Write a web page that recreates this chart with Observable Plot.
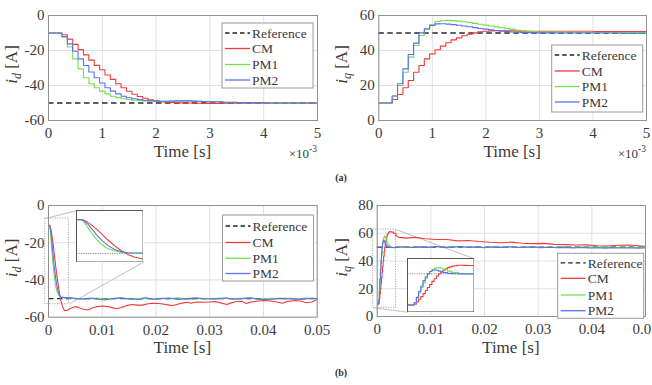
<!DOCTYPE html>
<html><head><meta charset="utf-8">
<script src="https://cdn.jsdelivr.net/npm/d3@7"></script>
<script src="https://cdn.jsdelivr.net/npm/@observablehq/plot@0.6"></script>
<style>
body{margin:0;background:#fff;}
#fig{position:relative;width:652px;height:385px;overflow:hidden;background:#fff;font-family:"Liberation Serif","Times New Roman",serif;}
.cap{position:absolute;font-size:10px;font-weight:bold;transform:translateX(-50%);color:#333;}
</style></head><body><div id="fig"></div>
<script>
// ---------- DATA ----------
const seriesNames = ["CM", "PM1", "PM2"];
const legendLabels = ["Reference", "CM", "PM1", "PM2"];
const refId = -50, refIq = 50;

// (a) time in ms (axis shows x10^-3 s)
const tTop = [0,0.25,0.35,0.45,0.55,0.65,0.75,0.85,0.95,1.05,1.15,1.25,1.35,1.45,1.55,1.65,1.75,1.85,1.95,2.05,2.15,2.25,2.35,2.45,2.55,2.65,2.75,2.85,2.95,3.25,3.5,4,4.5,5];
const idTopCM  = [-10,-11,-13.5,-16.5,-19.5,-22.5,-25.5,-28.5,-31,-34,-36.5,-39,-41.3,-43.3,-45,-46.3,-47.3,-48.1,-48.7,-49.2,-49.5,-49.7,-49.8,-49.9,-50,-50.1,-50.1,-50.2,-50.2,-50.1,-50.1,-50,-50,-50];
const idTopPM1 = [-10,-12.4,-18,-24.8,-30.5,-35.6,-39,-41.3,-43.2,-44.8,-46.1,-46.9,-47.6,-48,-48.4,-48.6,-48.8,-48.9,-49,-49,-49,-48.9,-48.8,-48.8,-48.8,-48.9,-49,-49.1,-49.3,-49.6,-49.8,-50,-50,-50];
const idTopPM2 = [-10,-12,-16.2,-20.4,-24.8,-28.6,-32.3,-35.6,-38.6,-41.3,-43.2,-44.8,-46.1,-47,-47.6,-48,-48.4,-48.7,-48.9,-49,-49,-48.9,-48.8,-48.8,-48.8,-48.9,-49,-49.1,-49.3,-49.6,-49.8,-50,-50,-50];
const iqTopCM  = [10,12,14.9,18.7,22.9,27.6,31.4,35.2,38.1,40.4,42.5,44.4,46.1,47.2,48.4,49.3,50.1,50.7,51,51.2,51.3,51.3,51.2,51.2,51.1,51.1,51,51,51,51,51,50.9,50.9,50.9];
const iqTopPM1 = [10,14,20,27.6,36.2,42.9,48.6,52,54.9,56.6,57,57.2,57.1,56.8,56.4,56,55.5,55,54.5,54,53.5,53,52.5,52.1,51.7,51.3,51,50.8,50.6,50.5,50.4,50.3,50.2,50.2];
const iqTopPM2 = [10,14,21,29.5,37.7,44.2,50.1,52.4,54.3,55.2,55.3,55.1,54.8,54.4,54,53.6,53.1,52.6,52.2,51.8,51.4,51.1,50.8,50.6,50.4,50.3,50.2,50.1,50.1,50,50,50,49.9,49.9];

// (b) time in s
const tIdCM  = [0,0.00027,0.0005,0.0008,0.0011,0.0014,0.0017,0.002,0.0023,0.0026,0.003,0.0035,0.004,0.0045,0.005,0.0055,0.006,0.007,0.0075,0.008,0.009,0.010,0.011,0.012,0.0128,0.0135,0.0145,0.0155,0.0165,0.0175,0.0185,0.0195,0.021,0.0225,0.023,0.024,0.025,0.026,0.0265,0.0275,0.029,0.030,0.031,0.032,0.0332,0.034,0.035,0.036,0.0368,0.0375,0.039,0.040,0.041,0.042,0.0435,0.0445,0.046,0.047,0.048,0.049,0.05];
const idCM   = [-10.5,-10.8,-13.5,-19.4,-26.3,-34.1,-40.6,-46.5,-51.1,-54.2,-56.5,-56.3,-55.5,-54.8,-54.3,-54.6,-55.3,-56,-56,-55.2,-54.3,-54,-54.3,-55,-55.5,-54.8,-53.8,-53.2,-53.5,-53.5,-52.8,-52.5,-52.8,-53.5,-53.8,-53,-52.3,-52,-52.5,-51.8,-52,-51.8,-51.6,-52.3,-53.2,-52.3,-51.6,-51.5,-52.6,-52,-51.3,-51,-51.2,-51.6,-52.5,-51.5,-51,-51.4,-52.2,-51.8,-50.5];
const tIdPM1 = [0,0.00027,0.00045,0.00065,0.00088,0.0011,0.00133,0.00164,0.00194,0.00224,0.003,0.004,0.005,0.006,0.0075,0.009,0.0105,0.012,0.0135,0.015,0.0165,0.018,0.0195,0.021,0.0225,0.024,0.0255,0.027,0.0285,0.030,0.0315,0.033,0.0345,0.036,0.0375,0.039,0.0405,0.042,0.0435,0.045,0.0465,0.048,0.05];
const idPM1  = [-10.5,-11.6,-17.4,-25.2,-32.9,-38.7,-43.4,-46.5,-48.4,-49.2,-49.5,-49.8,-50.2,-49.8,-50.3,-49.7,-50.2,-50,-49.6,-50.3,-50,-49.7,-50.4,-49.8,-50.2,-49.6,-50.1,-50.4,-49.8,-50,-50.3,-49.7,-50.2,-49.9,-49.6,-50.3,-50,-49.8,-50.4,-49.9,-50.2,-49.7,-50];
const tIdPM2 = [0,0.00027,0.0005,0.00073,0.00095,0.00118,0.00141,0.00171,0.00202,0.00232,0.003,0.004,0.005,0.006,0.007,0.008,0.009,0.0105,0.012,0.0135,0.015,0.017,0.018,0.0195,0.021,0.0225,0.024,0.026,0.0275,0.029,0.031,0.033,0.0345,0.036,0.0375,0.039,0.041,0.043,0.045,0.047,0.049,0.05];
const idPM2  = [-10.5,-10.8,-15.5,-22.5,-29.8,-35.6,-40.6,-45.3,-48,-49.2,-49.5,-49.5,-49.8,-50.3,-50,-49.7,-50.2,-50.8,-50,-49.6,-50.2,-50.5,-49.6,-50.3,-50,-49.7,-50.4,-50,-49.6,-50.2,-50,-49.7,-50.3,-50,-49.6,-50.3,-50.6,-49.8,-50,-50.4,-49.8,-50];

const tIqCM  = [0,0.0003,0.0004,0.0005,0.0006,0.0007,0.0008,0.0009,0.001,0.0011,0.0012,0.0013,0.0014,0.0015,0.0016,0.0017,0.0018,0.0019,0.002,0.0021,0.0022,0.0023,0.0024,0.0025,0.0027,0.003,0.0035,0.004,0.0055,0.007,0.009,0.011,0.013,0.015,0.017,0.019,0.021,0.023,0.025,0.027,0.029,0.031,0.033,0.035,0.037,0.039,0.041,0.043,0.045,0.047,0.049,0.05];
const iqCM   = [9,10,13,16.5,20,24,28,32,36,40,43.5,47,50,52.5,54.5,56.5,58,59,60,60.5,61,61.2,61.2,61,60.8,60,58.5,57,56.5,57,56,55.5,55.5,54.5,54.8,54,53.5,53.2,53.6,52.8,52.5,52.7,52,51.8,51.5,51.6,51,50.8,51.3,51.5,50.8,50.5];
const tIqPM1 = [0,0.0003,0.0004,0.0005,0.0006,0.0007,0.0008,0.0009,0.001,0.0011,0.0012,0.0013,0.0014,0.0015,0.0016,0.0018,0.002,0.0023,0.0026,0.003,0.0035,0.005,0.0065,0.008,0.0095,0.011,0.0125,0.014,0.0155,0.017,0.0185,0.02,0.0215,0.023,0.0245,0.026,0.0275,0.029,0.0305,0.032,0.0335,0.035,0.0365,0.038,0.0395,0.041,0.0425,0.044,0.0455,0.047,0.0485,0.05];
const iqPM1  = [9,12,18,25,32,38,44,49,53,55.5,57,57.8,58,57.2,56,53.5,51.5,50.3,49.8,49.6,49.8,50.2,49.8,50.3,49.9,50.4,49.8,50.1,50.4,49.8,50.1,49.7,50.2,49.9,50.3,49.8,50,50.3,49.7,50.1,49.8,50.2,49.7,50,50.3,49.8,50,49.6,50.1,49.7,49.9,49.8];
const tIqPM2 = [0,0.0003,0.0004,0.0005,0.0006,0.0007,0.0008,0.0009,0.001,0.0011,0.0012,0.0013,0.0014,0.0015,0.0016,0.0018,0.002,0.0023,0.0026,0.003,0.0035,0.005,0.0065,0.008,0.0095,0.011,0.0125,0.014,0.0155,0.017,0.0185,0.02,0.0215,0.023,0.0245,0.026,0.0275,0.029,0.0305,0.032,0.0335,0.035,0.0365,0.038,0.0395,0.041,0.0425,0.044,0.0455,0.047,0.0485,0.05];
const iqPM2  = [9,12,19,27,34,41,46,50,53,54.5,55,54.5,53.5,52.5,51.5,50.5,50,49.8,49.7,49.7,49.8,50.3,49.7,50.2,49.8,50.5,49.8,50,50.4,49.7,50.2,49.6,50.1,49.8,50.3,49.7,49.9,50.2,49.6,49.9,49.5,49.8,49.4,49.7,49.4,49.6,49.3,49.6,49.4,49.5,49.3,49.4];

// ticks
const xTicksA = [0,1,2,3,4,5];
const xTicksB = [0,0.01,0.02,0.03,0.04,0.05];
const yTicksId = [-60,-40,-20,0];
const yTicksIqA = [0,20,40,60];
const yTicksIqB = [0,20,40,60,80];

// zoom boxes / inset placement (in main-axis data units) and inset domains
const zoomBoxId = {x:[-0.0006,0.0038], y:[-53,-7]};
const insetId   = {x:[0.0053,0.0177], y:[-30.4,-2.7], domX:[0,0.003], domY:[-60,0]};
const zoomBoxIq = {x:[-0.00075,0.0035], y:[6.3,62.7]};
const insetIq   = {x:[0.0057,0.0181], y:[3.1,41.6], domX:[0,0.003], domY:[0,70]};

// ---------- STYLE ----------
const FONT = '"Liberation Serif","Times New Roman",serif';
const TXT = "#3a3a3a";
const colors = {CM:"#f23a3a", PM1:"#72e050", PM2:"#5a70f4"};
const rows = (ts, vs, s) => ts.map((t, i) => ({t, v: vs[i], s}));
const fig = document.getElementById("fig");
function place(node, left, top) {
  node.style.position = "absolute"; node.style.left = left + "px"; node.style.top = top + "px";
  fig.appendChild(node);
}
const fmt = d => String(d);

function mainPanel(c) {
  const marks = [
    Plot.gridX(c.xTicks, {stroke:"#e0e0e0", strokeOpacity:1}),
    Plot.gridY(c.yTicks, {stroke:"#e0e0e0", strokeOpacity:1}),
    Plot.ruleY([c.ref], {stroke:"#2a2a2a", strokeWidth:1.3, strokeDasharray:"5.5,3.5"}),
    ...(c.extraBelow || []),
    ...c.lines,
    Plot.frame({stroke:"#909090"}),
    Plot.axisX(c.xTicks, {tickSize:0, tickPadding:7, tickFormat:fmt, label:null, fontSize:15, fill:TXT}),
    Plot.axisY(c.yTicks, {tickSize:0, tickPadding:4, tickFormat:fmt, label:null, fontSize:15, fill:TXT})
  ];
  const svg = Plot.plot({
    width:c.width, height:c.height,
    marginTop:c.m[0], marginRight:c.m[1], marginBottom:c.m[2], marginLeft:c.m[3],
    x:{domain:c.xDomain}, y:{domain:c.yDomain},
    style:{fontFamily:FONT, fontSize:"15px", background:"transparent", overflow:"visible"},
    marks
  });
  place(svg, c.left, c.top);
  return svg;
}

function seriesLines(data, curve, extra = {}) {
  return seriesNames.map(s => Plot.line(data.filter(d => d.s === s), {x:"t", y:"v", stroke:colors[s], strokeWidth:1.1, curve, ...extra}));
}

function addLegend(svg, x, y, w, h, rowY) {
  const g = d3.select(svg).append("g").attr("font-family", FONT).attr("font-size", 13.5).attr("text-anchor", "start");
  g.append("rect").attr("x", x).attr("y", y).attr("width", w).attr("height", h).attr("fill", "#fff").attr("stroke", "#9a9a9a");
  legendLabels.forEach((n, i) => {
    const yy = y + rowY[i];
    g.append("line").attr("x1", x + 3).attr("x2", x + 28).attr("y1", yy).attr("y2", yy)
      .attr("stroke", i === 0 ? "#222" : colors[n]).attr("stroke-width", 1.3)
      .attr("stroke-dasharray", i === 0 ? "4.5,3" : null);
    g.append("text").attr("x", x + 30).attr("y", yy).attr("dy", "0.35em").attr("fill", TXT).text(n);
  });
}

function addLabels(svg, c, sub, exp) {
  const s = d3.select(svg);
  const fx = (c.m[3] + (c.width - c.m[1])) / 2;
  s.append("text").attr("x", fx).attr("y", c.height - c.m[2] + 36.5).attr("text-anchor", "middle")
    .attr("font-family", FONT).attr("font-size", 17).attr("fill", TXT).text("Time [s]");
  const fy = (c.m[0] + (c.height - c.m[2])) / 2 - 3;
  const t = s.append("text").attr("transform", `translate(${c.ylabX},${fy}) rotate(-90)`)
    .attr("text-anchor", "middle").attr("font-family", FONT).attr("font-size", 17).attr("fill", TXT);
  t.append("tspan").attr("font-style", "italic").text("i");
  t.append("tspan").attr("font-style", "italic").attr("font-size", 12).attr("dy", 3.5).text(sub);
  t.append("tspan").attr("dy", -3.5).text(" [A]");
  if (exp) {
    const e = s.append("text").attr("x", c.width - c.m[1]).attr("y", c.height - c.m[2] + 38).attr("text-anchor", "end")
      .attr("font-family", FONT).attr("font-size", 13).attr("fill", TXT);
    e.append("tspan").text("\u00d710");
    e.append("tspan").attr("font-size", 9.5).attr("dy", -6).text("-3");
  }
}

function inset(mainSvg, c, ins, lines, ref) {
  const sx = mainSvg.scale("x"), sy = mainSvg.scale("y");
  const x0 = sx.apply(ins.x[0]), x1 = sx.apply(ins.x[1]);
  const y0 = sy.apply(ins.y[1]), y1 = sy.apply(ins.y[0]);
  const svg = Plot.plot({
    width: x1 - x0, height: y1 - y0, margin: 0,
    x:{domain:ins.domX, axis:null}, y:{domain:ins.domY, axis:null},
    style:{background:"#fff"},
    marks:[
      Plot.ruleY([ref], {stroke:"#8a8a8a", strokeDasharray:"1.2,1.2"}),
      ...lines,
      Plot.frame({stroke:"#555"})
    ]
  });
  place(svg, c.left + x0, c.top + y0);
}

function zoomMarks(box, links) {
  return [
    Plot.rect([box], {x1:d => d.x[0], x2:d => d.x[1], y1:d => d.y[0], y2:d => d.y[1], fill:"none", stroke:"#9a9a9a", strokeDasharray:"1,1.5"}),
    Plot.link(links, {x1:"x1", y1:"y1", x2:"x2", y2:"y2", stroke:"#b8b8b8", strokeWidth:0.9})
  ];
}

// ---------- (a) ----------
const dIdTop = [...rows(tTop, idTopCM, "CM"), ...rows(tTop, idTopPM1, "PM1"), ...rows(tTop, idTopPM2, "PM2")];
const dIqTop = [...rows(tTop, iqTopCM, "CM"), ...rows(tTop, iqTopPM1, "PM1"), ...rows(tTop, iqTopPM2, "PM2")];

const cA1 = {left:0, top:0, width:326, height:165, m:[15,9,45,48], xDomain:[0,5], yDomain:[-60,0], xTicks:xTicksA, yTicks:yTicksId, ref:refId, ylabX:17,
  lines: seriesLines(dIdTop, "step-after")};
const sA1 = mainPanel(cA1);
addLabels(sA1, cA1, "d", true);
addLegend(sA1, 222, 23, 91, 65, [10, 25.5, 41.5, 57]);

const cA2 = {left:330, top:0, width:322, height:165, m:[15,6,45,48.3], xDomain:[0,5], yDomain:[0,60], xTicks:xTicksA, yTicks:yTicksIqA, ref:refIq, ylabX:17,
  lines: seriesLines(dIqTop, "step-after")};
const sA2 = mainPanel(cA2);
addLabels(sA2, cA2, "q", true);
addLegend(sA2, 221.7, 45, 91, 67, [10, 26, 41.5, 57]);

// ---------- (b) ----------
const dIdB = [...rows(tIdCM, idCM, "CM"), ...rows(tIdPM1, idPM1, "PM1"), ...rows(tIdPM2, idPM2, "PM2")];
const dIqB = [...rows(tIqCM, iqCM, "CM"), ...rows(tIqPM1, iqPM1, "PM1"), ...rows(tIqPM2, iqPM2, "PM2")];
const split = 0.0035;
const iqLines = () => seriesNames.flatMap(s => [
  Plot.line(dIqB.filter(d => d.s === s && d.t <= split), {x:"t", y:"v", stroke:colors[s], strokeWidth:1.1, curve:"step-after", clip:true}),
  Plot.line(dIqB.filter(d => d.s === s && d.t >= split), {x:"t", y:"v", stroke:colors[s], strokeWidth:1.1, clip:true})
]);

const cB1 = {left:0, top:190, width:326, height:195, m:[15,9.3,68.3,48], xDomain:[0,0.05], yDomain:[-60,0], xTicks:xTicksB, yTicks:yTicksId, ref:refId, ylabX:17,
  lines: seriesLines(dIdB, "linear"),
  extraBelow: zoomMarks(zoomBoxId, [
    {x1:zoomBoxId.x[0], y1:zoomBoxId.y[1], x2:insetId.x[0], y2:insetId.y[1]},
    {x1:zoomBoxId.x[1], y1:zoomBoxId.y[0], x2:insetId.x[1], y2:insetId.y[0]}])};
const sB1 = mainPanel(cB1);
addLabels(sB1, cB1, "d", false);
addLegend(sB1, 222.5, 25, 91, 66, [11, 27.5, 43.3, 58.5]);
inset(sB1, cB1, insetId, seriesLines(dIdB, "linear", {clip:true}), refId);

const cB2 = {left:330, top:190, width:322, height:195, m:[15,7,69,46.7], xDomain:[0,0.05], yDomain:[0,80], xTicks:xTicksB, yTicks:yTicksIqB, ref:refIq, ylabX:17,
  lines: iqLines(),
  extraBelow: zoomMarks(zoomBoxIq, [
    {x1:zoomBoxIq.x[1], y1:zoomBoxIq.y[1], x2:insetIq.x[1], y2:insetIq.y[1]},
    {x1:zoomBoxIq.x[0], y1:zoomBoxIq.y[0], x2:insetIq.x[0], y2:insetIq.y[0]}])};
const sB2 = mainPanel(cB2);
addLabels(sB2, cB2, "q", false);
addLegend(sB2, 227.7, 63.3, 86, 65, [9.5, 25, 41.7, 57.4]);
inset(sB2, cB2, insetIq, iqLines(), refIq);

// captions
for (const [txt, y] of [["(a)", 172], ["(b)", 367]]) {
  const d = document.createElement("div"); d.className = "cap"; d.textContent = txt;
  d.style.left = "341px"; d.style.top = y + "px"; fig.appendChild(d);
}
</script>
</body></html>
